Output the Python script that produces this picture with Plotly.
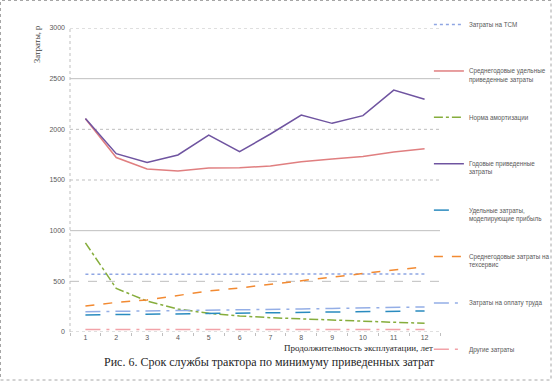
import plotly.graph_objects as go

years = list(range(1, 13))
tsm = [570, 570, 570, 570, 570, 570, 570, 570, 570, 572, 572, 572]
avg_unit = [2105, 1722, 1609, 1590, 1619, 1621, 1639, 1680, 1707, 1731, 1776, 1808]
amort = [880, 430, 306, 227, 184, 158, 141, 128, 115, 105, 96, 86]
annual = [2108, 1760, 1673, 1747, 1944, 1779, 1954, 2140, 2059, 2135, 2387, 2296]
profit = [168, 171, 174, 177, 181, 185, 190, 194, 198, 202, 205, 208]
service = [257, 292, 316, 362, 405, 435, 470, 506, 546, 575, 612, 641]
labor = [200, 203, 207, 210, 214, 218, 222, 227, 232, 237, 242, 247]
other = [25, 25, 25, 25, 25, 25, 25, 25, 25, 25, 25, 25]

y_ticks = [0, 500, 1000, 1500, 2000, 2500, 3000]
grid_styles = {500: "dash", 1000: "solid", 1500: "dot", 2000: "dot", 2500: "solid", 3000: "dot"}

series = [
    ("Затраты на ТСМ<br> ", tsm, "#8fa6e3", "dot", 1.5),
    ("Среднегодовые удельные<br>приведенные затраты", avg_unit, "#e07f80", "solid", 1.5),
    ("Норма амортизации<br> ", amort, "#86ad3c", "dashdot", 1.5),
    ("Годовые приведенные<br>затраты", annual, "#6f54a0", "solid", 1.5),
    ("Удельные затраты,<br>моделирующие прибыль", profit, "#2a8bbf", "longdash", 1.5),
    ("Среднегодовые затраты на<br>техсервис", service, "#f28a32", "dash", 1.5),
    ("Затраты на оплату труда<br> ", labor, "#94aee6", "longdashdot", 1.5),
    ("Другие затраты<br> ", other, "#f2a2a8", "longdashdot", 1.5),
]

fig = go.Figure()
for i, (name, vals, color, dash, w) in enumerate(series):
    fig.add_trace(go.Scatter(
        x=years, y=vals, mode="lines", name=name, legendgroup=str(i),
        line=dict(color=color, dash=dash, width=w),
    ))

shapes = []
for v in y_ticks[1:]:
    shapes.append(dict(type="line", xref="paper", x0=0, x1=1, yref="y", y0=v, y1=v,
                       line=dict(color="#bfbfbf", width=1, dash=grid_styles[v]), layer="below"))
# axes lines
shapes.append(dict(type="line", xref="paper", x0=0, x1=1, yref="y", y0=0, y1=0,
                   line=dict(color="#bfbfbf", width=1, dash="dot"), layer="below"))
shapes.append(dict(type="line", xref="paper", x0=0, x1=0, yref="paper", y0=0, y1=1,
                   line=dict(color="#bfbfbf", width=1, dash="dot"), layer="below"))
# outer border
shapes.append(dict(type="rect", xref="paper", yref="paper", x0=-69.5/370, x1=(551-70)/370,
                   y0=-(380-332)/304, y1=(332-0.5)/304,
                   line=dict(color="#a6a6a6", width=1, dash="dot")))

fig.update_layout(
    width=552, height=381,
    margin=dict(l=70, r=112, t=28, b=49, autoexpand=False),
    paper_bgcolor="white", plot_bgcolor="white",
    showlegend=True,
    legend=dict(x=0.97, y=1 - 14 / 381, xref="paper", yref="container",
                xanchor="left", yanchor="top", maxheight=1,
                font=dict(family="Liberation Sans", size=6.3, color="#595959"),
                bgcolor="rgba(0,0,0,0)", tracegroupgap=27, valign="top",
                itemwidth=30),
    xaxis=dict(range=[0.5, 12.5], tickvals=years, ticktext=[str(y) for y in years],
               showgrid=False, zeroline=False, showline=False, ticks="",
               tickfont=dict(family="Liberation Sans", size=7, color="#595959"),
               minor=dict(tick0=0.5, dtick=1, ticks="outside", ticklen=3, tickcolor="#bfbfbf")),
    yaxis=dict(range=[0, 3000], tickvals=y_ticks, showgrid=False, zeroline=False,
               showline=False, ticks="", ticklabelstandoff=4,
               tickfont=dict(family="Liberation Sans", size=7, color="#595959")),
    shapes=shapes,
    annotations=[
        dict(text="Затраты, р", xref="paper", yref="paper", x=-33/370, y=(332-45)/304,
             xanchor="center", yanchor="middle",
             textangle=-90, showarrow=False,
             font=dict(family="Liberation Serif", size=8.5, color="#404040")),
        dict(text="Продолжительность эксплуатации, лет", xref="paper", yref="paper",
             x=(358-70)/370, y=-(348-332)/304, xanchor="center", yanchor="middle",
             showarrow=False,
             font=dict(family="Liberation Serif", size=9, color="#262626")),
        dict(text="Рис. 6. Срок службы трактора по минимуму приведенных затрат",
             xref="paper", yref="paper", x=(269-70)/370, y=-(362-332)/304,
             xanchor="center", yanchor="middle", showarrow=False,
             font=dict(family="Liberation Serif", size=12, color="#262626")),
    ],
)

fig.write_html("out.html", config={"displayModeBar": False},
               post_script="document.body.style.margin='0';")
